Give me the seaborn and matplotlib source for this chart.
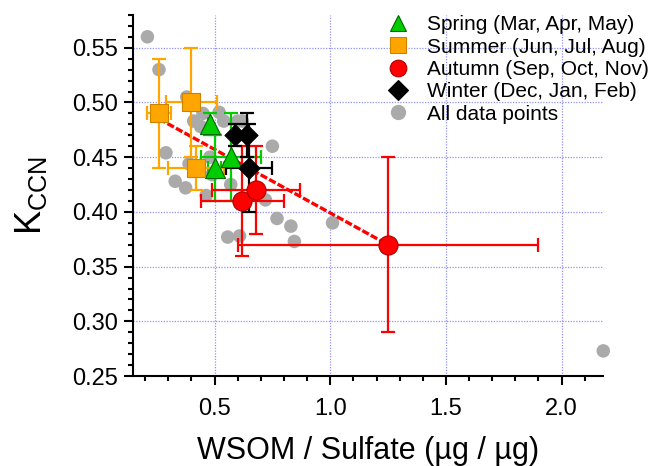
import numpy as np
import pandas as pd
import matplotlib
matplotlib.use("Agg")
import matplotlib.pyplot as plt
from matplotlib.ticker import MultipleLocator, FormatStrFormatter
import seaborn as sns

# all monthly data points (WSOM/sulfate, kappa)
all_x = [0.21, 0.26, 0.38, 0.41, 0.44, 0.45, 0.52, 0.54, 0.60, 0.62, 0.75,
         0.29, 0.39, 0.48, 0.33, 0.375, 0.49, 0.464, 0.57, 0.72, 0.77, 0.83,
         0.557, 0.608, 0.845, 1.01, 2.18]
all_y = [0.56, 0.53, 0.505, 0.483, 0.478, 0.49, 0.491, 0.483, 0.483, 0.483, 0.46,
         0.454, 0.444, 0.45, 0.428, 0.422, 0.434, 0.415, 0.425, 0.411, 0.394, 0.387,
         0.377, 0.378, 0.373, 0.39, 0.273]

# seasonal means with errors
spring_x = [0.48, 0.57, 0.50]
spring_y = [0.48, 0.45, 0.44]
spring_xerr = [0.01, 0.13, 0.03]
spring_yerr = [0.01, 0.04, 0.03]

summer_x = [0.26, 0.40, 0.42]
summer_y = [0.49, 0.50, 0.44]
summer_xerr = [0.05, 0.11, 0.12]
summer_yerr = [0.05, 0.05, 0.02]

autumn_x = [1.25, 0.62, 0.68]
autumn_y = [0.37, 0.41, 0.42]
autumn_xerr = [0.65, 0.18, 0.19]
autumn_yerr = [0.08, 0.05, 0.04]

winter_x = [0.59, 0.64, 0.65]
winter_y = [0.47, 0.47, 0.44]
winter_xerr = [0.01, 0.01, 0.10]
winter_yerr = [0.01, 0.02, 0.04]

# linear fit endpoints
fit_x = [0.26, 1.25]
fit_y = [0.485, 0.37]

sns.set_style("ticks")
plt.rcParams['font.family'] = ['Liberation Sans', 'DejaVu Sans']
plt.rcParams['mathtext.default'] = 'regular'
for k in ['text.color', 'axes.labelcolor', 'xtick.color', 'ytick.color', 'axes.edgecolor']:
    plt.rcParams[k] = 'black'

fig = plt.figure(figsize=(6.48, 4.66), dpi=100)
ax = fig.add_axes([0.205, 0.193, 0.726, 0.775])

grid_kw = dict(color='#9090ff', lw=0.9, ls=(0, (1, 1.2)), zorder=0)
for v in [0.5, 1.0, 1.5, 2.0]:
    ax.axvline(v, **grid_kw)
for v in [0.30, 0.35, 0.40, 0.45, 0.50, 0.55]:
    ax.axhline(v, **grid_kw)

df_all = pd.DataFrame({'x': all_x, 'y': all_y})
sns.scatterplot(data=df_all, x='x', y='y', ax=ax, color='#aaaaaa', s=95,
                edgecolor='none', zorder=2, legend=False, clip_on=False)

sns.lineplot(x=fit_x, y=fit_y, ax=ax, color='red', lw=2.4, zorder=3,
             linestyle=(0, (2.2, 0.7)))

seasons = [
    ('Spring (Mar, Apr, May)', spring_x, spring_y, spring_xerr, spring_yerr, '#00cc00', '^', 210, '#006600'),
    ('Summer (Jun, Jul, Aug)', summer_x, summer_y, summer_xerr, summer_yerr, '#ffa500', 's', 150, '#cc8400'),
    ('Autumn (Sep, Oct, Nov)', autumn_x, autumn_y, autumn_xerr, autumn_yerr, '#ff0000', 'o', 190, '#aa0000'),
    ('Winter (Dec, Jan, Feb)', winter_x, winter_y, winter_xerr, winter_yerr, '#000000', 'D', 115, '#000000'),
]

handles = []
for name, xs, ys, xe, ye, col, mk, sz, ec in seasons:
    ax.errorbar(xs, ys, xerr=xe, yerr=ye, fmt='none', ecolor=col, elinewidth=1.6,
                capsize=5, capthick=1.6, zorder=4)
    sns.scatterplot(x=xs, y=ys, ax=ax, color=col, marker=mk, s=sz, edgecolor=ec,
                    linewidth=0.8, zorder=5, legend=False)
    handles.append(plt.Line2D([], [], ls='none', marker=mk, color=col, mec=ec,
                              mew=0.8, ms=12 if mk != 'D' else 10, label=name))
handles.append(plt.Line2D([], [], ls='none', marker='o', color='#aaaaaa', mec='none',
                          ms=11, label='All data points'))

ax.set_xlim(0.147, 2.18)
ax.set_ylim(0.25, 0.58)
ax.xaxis.set_major_locator(MultipleLocator(0.5))
ax.xaxis.set_minor_locator(MultipleLocator(0.1))
ax.yaxis.set_major_locator(MultipleLocator(0.05))
ax.yaxis.set_minor_locator(MultipleLocator(0.01))
ax.xaxis.set_major_formatter(FormatStrFormatter('%.1f'))
ax.yaxis.set_major_formatter(FormatStrFormatter('%.2f'))
ax.tick_params(which='major', direction='out', length=6.5, width=1.5, labelsize=17)
ax.tick_params(axis='x', which='major', pad=9)
ax.tick_params(axis='y', which='major', pad=4.5)
ax.tick_params(which='minor', direction='out', length=3.8, width=1.5)
sns.despine(ax=ax)
for s in ['left', 'bottom']:
    ax.spines[s].set_linewidth(1.5)

ax.set_xlabel('WSOM / Sulfate (µg / µg)', fontsize=22, labelpad=12)
ax.set_ylabel('$K_{CCN}$', fontsize=26, labelpad=16)

ax.legend(handles=handles, loc='upper left', bbox_to_anchor=(0.519, 1.022), frameon=False,
          fontsize=15, handletextpad=0.8, labelspacing=0.16, borderaxespad=0,
          handlelength=1.2)

fig.savefig('out.png', dpi=100)
